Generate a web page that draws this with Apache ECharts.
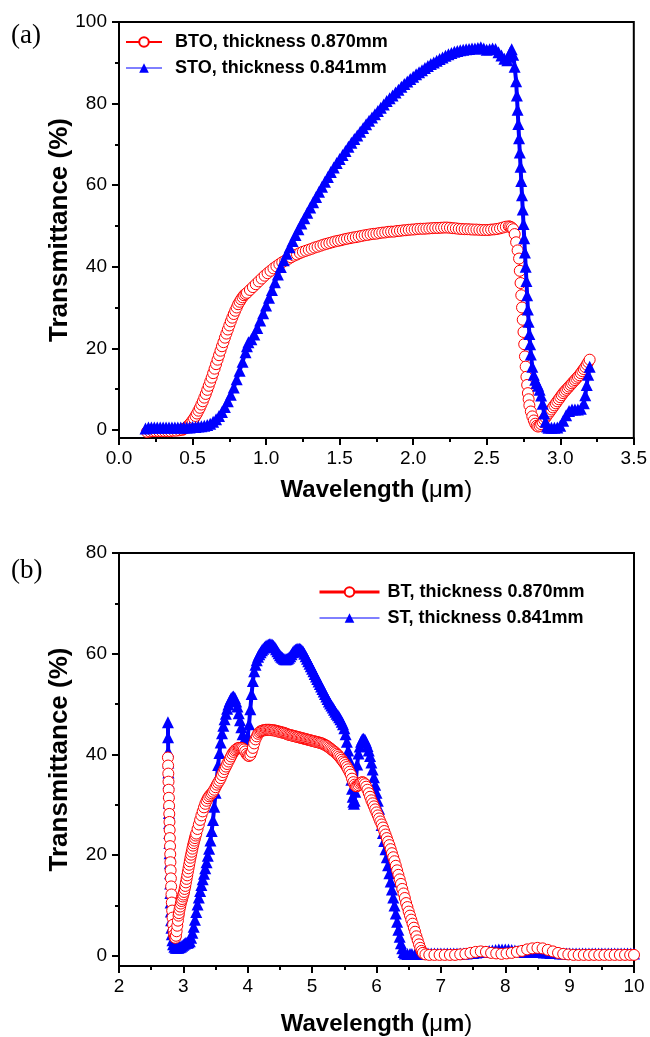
<!DOCTYPE html>
<html>
<head>
<meta charset="utf-8">
<script src="https://cdn.jsdelivr.net/npm/echarts@6/dist/echarts.min.js"></script>
<style>
html,body{margin:0;padding:0;background:#fff;}
#chart{width:650px;height:1037px;}
</style>
</head>
<body>
<div id="chart"></div>
<script>
// ---------- Panel (a) ----------
const namesA = ['BTO, thickness 0.870mm', 'STO, thickness 0.841mm'];
const xTicksA = [0, 0.5, 1.0, 1.5, 2.0, 2.5, 3.0, 3.5];
const yTicksA = [0, 20, 40, 60, 80, 100];
const yMinorA = [10, 30, 50, 70, 90];

const btoA = [
[0.19,-0.5],[0.21,-0.4],[0.23,-0.3],[0.25,-0.3],[0.27,-0.3],[0.29,-0.3],[0.31,-0.3],[0.33,-0.3],[0.35,-0.3],[0.37,-0.2],
[0.39,-0.2],[0.41,-0.1],[0.43,0.0],[0.44,0.2],[0.45,0.4],[0.46,0.7],[0.47,1.0],[0.48,1.4],[0.49,1.8],[0.50,2.3],
[0.51,2.8],[0.52,3.4],[0.53,4.0],[0.54,4.7],[0.55,5.4],[0.56,6.2],[0.57,7.0],[0.58,7.9],[0.59,8.8],[0.60,9.8],
[0.61,10.8],[0.62,11.8],[0.63,12.8],[0.64,13.9],[0.65,15.0],[0.66,16.1],[0.67,17.2],[0.68,18.3],[0.69,19.4],[0.70,20.5],
[0.71,21.5],[0.72,22.6],[0.73,23.6],[0.74,24.6],[0.75,25.6],[0.76,26.6],[0.77,27.5],[0.78,28.4],[0.79,29.2],[0.80,30.0],
[0.81,30.8],[0.82,31.4],[0.83,32.0],[0.84,32.5],[0.85,33.0],[0.86,33.3],[0.87,33.6],[0.89,34.3],[0.91,35.0],[0.93,35.7],
[0.95,36.4],[0.97,37.1],[0.99,37.8],[1.01,38.4],[1.03,39.0],[1.05,39.6],[1.07,40.1],[1.09,40.6],[1.11,41.1],[1.13,41.5],
[1.15,41.9],[1.17,42.3],[1.19,42.7],[1.21,43.0],[1.23,43.35],[1.25,43.65],[1.27,43.9],[1.29,44.15],[1.31,44.4],[1.33,44.7],
[1.35,44.9],[1.37,45.15],[1.39,45.4],[1.41,45.6],[1.43,45.8],[1.45,46.0],[1.47,46.2],[1.49,46.35],[1.51,46.5],[1.53,46.7],
[1.55,46.85],[1.57,47.0],[1.59,47.15],[1.61,47.25],[1.63,47.4],[1.65,47.55],[1.67,47.7],[1.69,47.8],[1.71,47.95],[1.73,48.05],
[1.75,48.1],[1.77,48.25],[1.79,48.35],[1.81,48.4],[1.83,48.55],[1.85,48.6],[1.87,48.6],[1.89,48.75],[1.91,48.8],[1.93,48.9],
[1.95,48.95],[1.97,49.05],[1.99,49.1],[2.01,49.15],[2.03,49.25],[2.05,49.3],[2.07,49.3],[2.09,49.35],[2.11,49.4],[2.13,49.45],
[2.15,49.5],[2.17,49.5],[2.19,49.55],[2.21,49.6],[2.23,49.6],[2.25,49.55],[2.27,49.45],[2.29,49.4],[2.31,49.3],[2.33,49.25],
[2.35,49.2],[2.37,49.2],[2.39,49.15],[2.41,49.1],[2.43,49.1],[2.45,49.05],[2.47,49.0],[2.49,49.0],[2.51,49.0],[2.53,49.1],
[2.55,49.15],[2.57,49.25],[2.59,49.4],[2.61,49.6],[2.63,49.8],[2.65,49.9],[2.66,49.8],[2.67,49.6],[2.68,49.2],[2.69,48.0],
[2.70,46.0],[2.71,44.0],[2.72,42.0],[2.725,39.0],[2.73,36.0],[2.735,33.0],[2.74,30.0],[2.745,27.0],[2.75,24.0],[2.755,21.0],
[2.76,18.0],[2.765,15.5],[2.77,13.0],[2.775,11.0],[2.78,9.0],[2.785,7.5],[2.79,6.0],[2.80,4.5],[2.81,3.3],[2.82,2.3],
[2.83,1.5],[2.84,1.0],[2.85,0.8],[2.86,1.0],[2.87,1.4],[2.88,1.9],[2.89,2.5],[2.90,3.0],[2.91,3.5],[2.92,4.0],
[2.93,4.5],[2.94,5.0],[2.95,5.5],[2.96,6.0],[2.97,6.5],[2.98,7.0],[2.99,7.5],[3.00,8.0],[3.01,8.5],[3.02,9.0],
[3.03,9.4],[3.04,9.8],[3.05,10.2],[3.06,10.6],[3.07,11.0],[3.08,11.4],[3.09,11.8],[3.10,12.2],[3.11,12.6],[3.12,13.0],
[3.13,13.4],[3.14,13.9],[3.15,14.4],[3.16,14.9],[3.17,15.4],[3.18,16.0],[3.19,16.6],[3.20,17.2]
];

const stoA = [
[0.18,0.3],[0.20,0.6],[0.22,0.6],[0.24,0.6],[0.26,0.6],[0.28,0.6],[0.30,0.6],[0.32,0.6],[0.34,0.6],[0.36,0.6],
[0.38,0.6],[0.40,0.6],[0.42,0.6],[0.44,0.6],[0.46,0.6],[0.48,0.6],[0.50,0.7],[0.52,0.7],[0.54,0.8],[0.56,0.9],
[0.58,1.0],[0.60,1.2],[0.62,1.5],[0.64,2.0],[0.66,2.6],[0.68,3.4],[0.70,4.4],[0.72,5.6],[0.74,7.0],[0.76,8.6],
[0.78,10.4],[0.80,12.4],[0.82,14.5],[0.84,16.7],[0.86,19.0],[0.87,20.5],[0.88,21.5],[0.90,22.2],[0.92,23.4],[0.94,25.0],
[0.96,26.8],[0.98,28.6],[1.00,30.5],[1.02,32.4],[1.04,34.3],[1.06,36.2],[1.08,38.1],[1.10,39.9],[1.12,41.6],[1.14,43.2],
[1.16,44.8],[1.18,46.3],[1.20,47.8],[1.22,49.2],[1.24,50.6],[1.26,51.9],[1.28,53.2],[1.30,54.5],[1.32,55.8],[1.34,57.1],
[1.36,58.4],[1.38,59.6],[1.40,60.8],[1.42,62.0],[1.44,63.2],[1.46,64.3],[1.48,65.4],[1.50,66.4],[1.52,67.4],[1.54,68.4],
[1.56,69.4],[1.58,70.4],[1.60,71.3],[1.62,72.2],[1.64,73.1],[1.66,74.0],[1.68,74.9],[1.70,75.8],[1.72,76.6],[1.74,77.4],
[1.76,78.2],[1.78,79.0],[1.80,79.8],[1.82,80.6],[1.84,81.3],[1.86,82.0],[1.88,82.7],[1.90,83.4],[1.92,84.1],[1.94,84.8],
[1.96,85.4],[1.98,86.0],[2.00,86.6],[2.02,87.2],[2.04,87.7],[2.06,88.2],[2.08,88.7],[2.10,89.2],[2.12,89.7],[2.14,90.1],
[2.16,90.5],[2.18,90.9],[2.20,91.3],[2.22,91.7],[2.24,92.1],[2.26,92.4],[2.28,92.7],[2.30,92.9],[2.32,93.1],[2.34,93.2],
[2.36,93.3],[2.38,93.4],[2.40,93.5],[2.42,93.5],[2.44,93.6],[2.46,93.8],[2.48,93.5],[2.50,93.2],[2.52,93.3],[2.54,93.5],
[2.56,93.4],[2.58,92.6],[2.60,91.8],[2.62,91.0],[2.64,90.6],[2.65,91.5],[2.66,92.6],[2.67,93.3],[2.68,92.0],[2.69,89.0],
[2.70,85.5],[2.705,82.0],[2.71,78.5],[2.715,75.0],[2.72,71.5],[2.725,68.0],[2.73,64.5],[2.735,61.0],[2.74,57.5],[2.745,54.0],
[2.75,50.5],[2.755,47.0],[2.76,43.5],[2.765,40.0],[2.77,36.5],[2.775,33.0],[2.78,29.5],[2.785,26.5],[2.79,23.5],[2.795,21.0],
[2.80,18.5],[2.81,15.5],[2.82,13.5],[2.83,12.3],[2.84,11.5],[2.85,10.8],[2.86,9.8],[2.87,8.4],[2.88,6.4],[2.89,4.0],
[2.90,2.0],[2.91,0.8],[2.92,0.5],[2.94,0.5],[2.96,0.5],[2.98,0.6],[3.00,1.0],[3.02,2.2],[3.04,3.6],[3.06,4.6],
[3.08,5.0],[3.10,5.0],[3.12,5.0],[3.14,5.2],[3.16,6.5],[3.17,8.5],[3.18,11.0],[3.19,13.5],[3.20,15.5]
];

// ---------- Panel (b) ----------
const namesB = ['BT, thickness 0.870mm', 'ST, thickness 0.841mm'];
const xTicksB = [2, 3, 4, 5, 6, 7, 8, 9, 10];
const yTicksB = [0, 20, 40, 60, 80];
const yMinorB = [10, 30, 50, 70];

const btB = [
[2.760,39.4],[2.763,37.8],[2.766,36.2],[2.769,34.6],[2.772,33.0],[2.775,31.4],[2.778,29.8],[2.781,28.2],[2.784,26.6],[2.787,25.0],
[2.790,23.4],[2.793,21.8],[2.796,20.2],[2.799,18.6],[2.802,17.0],[2.806,15.4],[2.810,13.8],[2.815,12.2],[2.820,10.6],[2.826,9.0],
[2.832,7.6],[2.840,6.2],[2.848,5.0],[2.856,4.2],[2.865,3.7],[2.875,3.6],[2.885,4.0],[2.895,4.9],[2.905,6.0],[2.915,7.0],
[2.925,8.0],[2.93,8.5],[2.94,9.2],[2.95,9.8],[2.96,10.4],[2.97,10.9],[2.98,11.3],[2.99,11.8],[3.00,12.2],[3.01,12.7],
[3.02,13.3],[3.03,13.9],[3.04,14.6],[3.05,15.3],[3.06,16.0],[3.07,16.7],[3.08,17.4],[3.09,18.1],[3.10,18.8],[3.11,19.5],
[3.12,20.1],[3.13,20.7],[3.14,21.3],[3.15,21.9],[3.16,22.4],[3.17,22.9],[3.18,23.4],[3.19,23.9],[3.20,24.3],[3.22,25.2],
[3.24,26.1],[3.26,27.0],[3.28,27.9],[3.30,28.7],[3.32,29.5],[3.34,30.2],[3.36,30.8],[3.38,31.3],[3.40,31.7],[3.42,32.0],
[3.44,32.3],[3.46,32.6],[3.48,33.0],[3.50,33.5],[3.52,34.0],[3.54,34.4],[3.56,34.8],[3.58,35.3],[3.60,35.9],[3.62,36.5],
[3.64,37.1],[3.66,37.6],[3.68,38.1],[3.70,38.6],[3.72,39.1],[3.74,39.6],[3.76,40.1],[3.78,40.5],[3.80,40.8],[3.82,41.0],
[3.84,41.2],[3.86,41.3],[3.88,41.3],[3.90,41.3],[3.92,41.2],[3.94,41.0],[3.96,40.6],[3.98,40.1],[4.00,39.8],[4.02,39.7],
[4.04,39.9],[4.06,40.5],[4.08,41.3],[4.10,42.2],[4.12,43.0],[4.14,43.6],[4.16,44.1],[4.18,44.4],[4.20,44.6],[4.22,44.7],
[4.24,44.8],[4.26,44.8],[4.28,44.9],[4.30,44.9],[4.32,44.9],[4.34,44.9],[4.36,44.85],[4.38,44.8],[4.40,44.8],[4.42,44.75],
[4.44,44.7],[4.46,44.6],[4.48,44.55],[4.50,44.5],[4.52,44.4],[4.54,44.35],[4.56,44.3],[4.58,44.2],[4.60,44.1],[4.62,44.0],
[4.64,43.9],[4.66,43.85],[4.68,43.8],[4.70,43.7],[4.72,43.65],[4.74,43.6],[4.76,43.5],[4.78,43.45],[4.80,43.4],[4.82,43.3],
[4.84,43.25],[4.86,43.2],[4.88,43.1],[4.90,43.05],[4.92,43.0],[4.94,42.9],[4.96,42.85],[4.98,42.8],[5.00,42.7],[5.02,42.65],
[5.04,42.6],[5.06,42.5],[5.08,42.45],[5.10,42.4],[5.12,42.3],[5.14,42.25],[5.16,42.15],[5.18,42.0],[5.20,41.9],[5.22,41.75],
[5.24,41.6],[5.26,41.4],[5.28,41.2],[5.30,41.0],[5.32,40.8],[5.34,40.6],[5.36,40.4],[5.38,40.15],[5.40,39.9],[5.42,39.6],
[5.44,39.3],[5.46,38.95],[5.48,38.6],[5.50,38.3],[5.52,37.9],[5.54,37.5],[5.56,37.05],[5.58,36.55],[5.60,36.0],[5.62,35.2],
[5.64,34.5],[5.66,34.0],[5.68,33.7],[5.70,33.7],[5.72,33.9],[5.74,34.2],[5.76,34.4],[5.78,34.5],[5.80,34.4],[5.82,34.1],
[5.84,33.6],[5.86,33.0],[5.88,32.3],[5.90,31.6],[5.92,30.9],[5.94,30.3],[5.96,29.7],[5.98,29.1],[6.00,28.5],[6.02,27.9],
[6.04,27.3],[6.06,26.7],[6.08,26.1],[6.10,25.5],[6.12,24.8],[6.14,24.1],[6.16,23.4],[6.18,22.7],[6.20,22.0],[6.22,21.2],
[6.24,20.4],[6.26,19.6],[6.28,18.8],[6.30,17.9],[6.32,17.0],[6.34,16.1],[6.36,15.2],[6.38,14.3],[6.40,13.3],[6.42,12.4],
[6.44,11.5],[6.46,10.5],[6.48,9.7],[6.50,8.8],[6.52,8.0],[6.54,7.2],[6.56,6.4],[6.58,5.6],[6.60,4.8],[6.62,3.9],
[6.64,3.1],[6.66,2.3],[6.68,1.6],[6.70,1.0],[6.72,0.6],[6.76,0.3],[6.82,0.2],[6.90,0.2],[6.98,0.2],[7.06,0.2],
[7.14,0.2],[7.22,0.2],[7.30,0.3],[7.38,0.4],[7.46,0.6],[7.54,0.8],[7.62,0.9],[7.70,0.8],[7.78,0.6],[7.86,0.5],
[7.94,0.4],[8.02,0.5],[8.10,0.6],[8.18,0.8],[8.26,1.0],[8.34,1.3],[8.42,1.5],[8.50,1.6],[8.58,1.5],[8.66,1.2],
[8.74,0.9],[8.82,0.6],[8.90,0.4],[8.98,0.3],[9.06,0.2],[9.14,0.2],[9.22,0.2],[9.30,0.2],[9.38,0.2],[9.46,0.2],
[9.54,0.2],[9.62,0.2],[9.70,0.2],[9.78,0.2],[9.86,0.2],[9.94,0.2],[10.0,0.2]
];

const stB = [
[2.760,46.4],[2.762,43.4],[2.764,40.6],[2.766,38.4],[2.768,36.4],[2.770,34.4],[2.772,32.4],[2.774,30.4],[2.776,28.4],[2.778,26.4],
[2.780,24.4],[2.783,22.4],[2.786,20.4],[2.789,18.4],[2.792,16.4],[2.795,14.4],[2.798,12.5],[2.802,10.6],[2.806,8.8],[2.810,7.1],
[2.815,5.6],[2.820,4.3],[2.830,3.1],[2.840,2.3],[2.86,1.8],[2.88,1.6],[2.90,1.6],[2.92,1.6],[2.94,1.7],[2.96,1.8],
[2.98,2.0],[3.00,2.2],[3.02,2.4],[3.04,2.6],[3.06,2.6],[3.08,2.7],[3.10,2.9],[3.12,3.6],[3.14,4.6],[3.16,5.8],
[3.18,7.2],[3.20,8.7],[3.22,10.2],[3.24,11.6],[3.26,12.9],[3.28,14.1],[3.30,15.2],[3.32,16.3],[3.34,17.4],[3.36,18.6],
[3.38,19.9],[3.40,21.3],[3.42,22.9],[3.44,24.8],[3.46,27.0],[3.48,29.6],[3.50,32.4],[3.52,35.2],[3.54,37.9],[3.56,40.3],
[3.58,42.4],[3.60,44.2],[3.62,45.7],[3.64,47.0],[3.66,48.1],[3.68,49.1],[3.70,49.9],[3.72,50.6],[3.74,51.1],[3.76,51.4],
[3.78,51.5],[3.80,51.2],[3.82,50.5],[3.84,49.5],[3.86,48.2],[3.88,46.8],[3.90,45.4],[3.92,44.0],[3.94,42.8],[3.96,42.0],
[3.98,42.2],[4.00,43.6],[4.02,46.0],[4.04,49.0],[4.06,52.0],[4.08,54.6],[4.10,56.5],[4.12,57.8],[4.14,58.7],[4.16,59.4],
[4.18,59.9],[4.20,60.3],[4.22,60.7],[4.24,61.0],[4.26,61.3],[4.28,61.5],[4.30,61.7],[4.32,61.8],[4.34,61.9],[4.36,61.9],
[4.38,61.8],[4.40,61.6],[4.42,61.3],[4.44,60.9],[4.46,60.5],[4.48,60.1],[4.50,59.7],[4.52,59.4],[4.54,59.2],[4.56,59.0],
[4.58,58.9],[4.60,58.9],[4.62,59.0],[4.64,59.2],[4.66,59.5],[4.68,59.9],[4.70,60.3],[4.72,60.6],[4.74,60.8],[4.76,60.9],
[4.78,61.0],[4.80,61.0],[4.82,60.9],[4.84,60.7],[4.86,60.4],[4.88,60.0],[4.90,59.5],[4.92,59.0],[4.94,58.5],[4.96,58.0],
[4.98,57.5],[5.00,57.0],[5.02,56.5],[5.04,56.0],[5.06,55.5],[5.08,55.0],[5.10,54.5],[5.12,54.0],[5.14,53.5],[5.16,53.0],
[5.18,52.5],[5.20,52.0],[5.22,51.5],[5.24,51.0],[5.26,50.5],[5.28,50.1],[5.30,49.7],[5.32,49.3],[5.34,48.9],[5.36,48.5],
[5.38,48.1],[5.40,47.8],[5.42,47.4],[5.44,47.0],[5.46,46.5],[5.48,46.0],[5.50,45.2],[5.52,44.0],[5.54,42.5],[5.56,40.8],
[5.58,38.9],[5.60,36.9],[5.61,35.0],[5.62,33.2],[5.63,31.6],[5.64,30.6],[5.65,30.2],[5.66,30.8],[5.67,32.6],[5.68,35.0],
[5.70,38.0],[5.72,40.2],[5.74,41.6],[5.76,42.5],[5.78,43.0],[5.80,43.1],[5.82,42.9],[5.84,42.4],[5.86,41.7],[5.88,40.8],
[5.90,39.7],[5.92,38.4],[5.94,37.0],[5.96,35.5],[5.98,34.0],[6.00,32.4],[6.02,30.8],[6.04,29.2],[6.06,27.6],[6.08,26.0],
[6.10,24.4],[6.12,22.8],[6.14,21.2],[6.16,19.6],[6.18,18.0],[6.20,16.4],[6.22,14.8],[6.24,13.2],[6.26,11.6],[6.28,10.0],
[6.30,8.4],[6.32,6.8],[6.34,5.2],[6.36,3.8],[6.38,2.5],[6.40,1.5],[6.42,0.8],[6.44,0.5],[6.48,0.4],[6.52,0.4],
[6.55,0.4],[6.60,0.4],[6.65,0.4],[6.70,0.4],[6.75,0.5],[6.80,0.5],[6.85,0.5],[6.90,0.5],[6.95,0.5],[7.00,0.5],
[7.05,0.5],[7.10,0.5],[7.15,0.5],[7.20,0.5],[7.25,0.5],[7.30,0.5],[7.35,0.5],[7.40,0.5],[7.45,0.6],[7.50,0.6],
[7.55,0.7],[7.60,0.8],[7.65,0.8],[7.70,0.9],[7.75,1.0],[7.80,1.1],[7.85,1.2],[7.90,1.3],[7.95,1.3],[8.00,1.3],
[8.05,1.3],[8.10,1.2],[8.15,1.1],[8.20,1.0],[8.25,0.9],[8.30,0.8],[8.35,0.8],[8.40,0.8],[8.45,0.8],[8.50,0.8],
[8.55,0.8],[8.60,0.7],[8.65,0.7],[8.70,0.6],[8.75,0.6],[8.80,0.6],[8.85,0.5],[8.90,0.5],[8.95,0.5],[9.00,0.5],
[9.05,0.5],[9.10,0.5],[9.15,0.5],[9.20,0.5],[9.25,0.5],[9.30,0.5],[9.35,0.5],[9.40,0.5],[9.45,0.5],[9.50,0.5],
[9.55,0.5],[9.60,0.5],[9.65,0.5],[9.70,0.5],[9.75,0.5],[9.80,0.5],[9.85,0.5],[9.90,0.5],[9.95,0.5],[10.0,0.5]
];

// ---------- styling ----------
const FONT = '"Liberation Sans", Arial, Helvetica, sans-serif';
const RED = '#ff0000';
const BLUE = '#0000ff';

function xAxisCfg(grid, min, max, interval, fmt, gap) {
  return {
    gridIndex: grid, type: 'value', min: min, max: max, interval: interval, position: 'bottom',
    axisLine: {show: true, onZero: false, lineStyle: {color: '#000', width: 2}},
    axisTick: {show: true, inside: false, length: 7, lineStyle: {color: '#000', width: 2}},
    minorTick: {show: true, splitNumber: 2, length: 4, lineStyle: {color: '#000', width: 2}},
    axisLabel: {color: '#000', fontSize: 19, fontFamily: FONT, margin: 11, formatter: fmt},
    splitLine: {show: false},
    name: '{b|Wavelength (}{n|μ}{b|m}{n|)}',
    nameLocation: 'middle', nameGap: gap, nameMoveOverlap: false,
    nameTextStyle: {
      rich: {
        b: {fontSize: 24, fontWeight: 'bold', fontFamily: FONT, color: '#000'},
        n: {fontSize: 24, fontWeight: 'normal', fontFamily: FONT, color: '#000'}
      }
    }
  };
}
function yAxisCfg(grid, min, max, ticks) {
  return {
    gridIndex: grid, type: 'value', min: min, max: max, position: 'left',
    axisLine: {show: true, onZero: false, lineStyle: {color: '#000', width: 2}},
    axisTick: {show: true, inside: false, length: 7, customValues: ticks, lineStyle: {color: '#000', width: 2}},
    axisLabel: {color: '#000', fontSize: 19, fontFamily: FONT, margin: 12, customValues: ticks},
    splitLine: {show: false},
    name: 'Transmittance (%)', nameLocation: 'middle', nameGap: 46, nameMoveOverlap: false,
    nameTextStyle: {fontSize: 26, fontWeight: 'bold', fontFamily: FONT, color: '#000'}
  };
}
function yMinorCfg(grid, min, max, ticks) {
  return {
    gridIndex: grid, type: 'value', min: min, max: max, position: 'left', offset: 0,
    axisLine: {show: false},
    axisTick: {show: true, inside: false, length: 4, customValues: ticks, lineStyle: {color: '#000', width: 2}},
    axisLabel: {show: false},
    splitLine: {show: false}
  };
}
function circleSeries(name, data, xi, yi, z) {
  return {
    name: name, type: 'line', data: data, xAxisIndex: xi, yAxisIndex: yi, z: z,
    symbol: 'circle', symbolSize: 11, showSymbol: true,
    lineStyle: {color: RED, width: 1},
    itemStyle: {color: '#ffffff', borderColor: RED, borderWidth: 1},
    emphasis: {disabled: true}
  };
}
function triSeries(name, data, xi, yi, z) {
  return {
    name: name, type: 'line', data: data, xAxisIndex: xi, yAxisIndex: yi, z: z,
    symbol: 'triangle', symbolSize: 12, showSymbol: true,
    lineStyle: {color: BLUE, width: 4},
    itemStyle: {color: BLUE, borderColor: BLUE, borderWidth: 0},
    emphasis: {disabled: true}
  };
}

const chart = echarts.init(document.getElementById('chart'), null, {renderer: 'canvas'});
chart.setOption({
  animation: false,
  backgroundColor: '#fff',
  grid: [
    {left: 119, top: 22, width: 515, height: 416, show: true, borderColor: '#000', borderWidth: 2, backgroundColor: 'transparent'},
    {left: 119, top: 553, width: 515, height: 416, show: true, borderColor: '#000', borderWidth: 2, backgroundColor: 'transparent'}
  ],
  xAxis: [
    xAxisCfg(0, xTicksA[0], xTicksA[xTicksA.length - 1], 0.5, v => v.toFixed(1), 40),
    xAxisCfg(1, xTicksB[0], xTicksB[xTicksB.length - 1], 1, v => String(v), 46)
  ],
  yAxis: [
    yAxisCfg(0, -2, 100, yTicksA),
    yMinorCfg(0, -2, 100, yMinorA),
    yAxisCfg(1, -2, 80, yTicksB),
    yMinorCfg(1, -2, 80, yMinorB)
  ],
  legend: [
    {
      left: 120, top: 28, orient: 'vertical', itemWidth: 36, itemHeight: 12, itemGap: 8,
      data: [
        {name: namesA[0]},
        {name: namesA[1], lineStyle: {width: 1}}
      ],
      textStyle: {fontSize: 18, fontWeight: 'bold', fontFamily: FONT, color: '#000', padding: [0, 0, 0, 8]},
      selectedMode: false
    },
    {
      left: 313, top: 578, orient: 'vertical', itemWidth: 60, itemHeight: 12, itemGap: 8,
      data: [
        {name: namesB[0], lineStyle: {width: 3}},
        {name: namesB[1], lineStyle: {width: 1}}
      ],
      textStyle: {fontSize: 18, fontWeight: 'bold', fontFamily: FONT, color: '#000', padding: [0, 0, 0, 3]},
      selectedMode: false
    }
  ],
  graphic: [
    {type: 'text', left: 11, top: 22, style: {text: '(a)', font: '27px "Liberation Serif", "Times New Roman", serif', fill: '#000'}},
    {type: 'text', left: 11, top: 557, style: {text: '(b)', font: '27px "Liberation Serif", "Times New Roman", serif', fill: '#000'}}
  ],
  series: [
    circleSeries(namesA[0], btoA, 0, 0, 2),
    triSeries(namesA[1], stoA, 0, 0, 3),
    triSeries(namesB[1], stB, 1, 2, 2),
    circleSeries(namesB[0], btB, 1, 2, 3)
  ]
});
</script>
</body>
</html>
